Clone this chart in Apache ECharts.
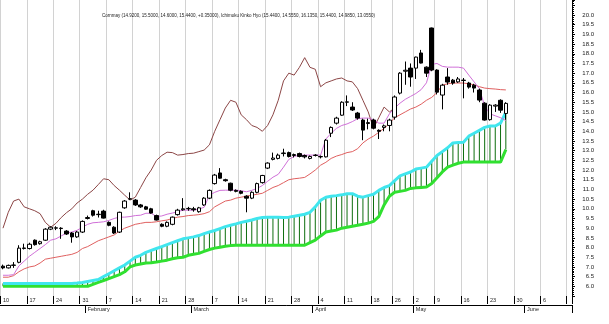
<!DOCTYPE html>
<html><head><meta charset="utf-8">
<script src="https://cdn.jsdelivr.net/npm/echarts@6/dist/echarts.min.js"></script>
<style>html,body{margin:0;padding:0;background:#fff}#c{width:609px;height:324px}</style>
</head><body><div id="c"></div>
<script>
const titleText = 'Cornmay (14.9200, 15.5000, 14.6000, 15.4400, +0.35000), Ichimoku Kinko Hyo (15.4400, 14.5550, 16.1350, 15.4400, 14.9850, 13.0550)';
const dates = [
 '01-10','01-11','01-12','01-13','01-14','01-17','01-18','01-19','01-20','01-21',
 '01-24','01-25','01-26','01-27','01-28','01-31','02-01','02-02','02-03','02-04',
 '02-07','02-08','02-09','02-10','02-11','02-14','02-15','02-16','02-17','02-18',
 '02-21','02-22','02-23','02-24','02-25','02-28','03-01','03-02','03-03','03-04',
 '03-07','03-08','03-09','03-10','03-11','03-14','03-15','03-16','03-17','03-18',
 '03-21','03-22','03-23','03-24','03-25','03-28','03-29','03-30','03-31','04-01',
 '04-04','04-05','04-06','04-07','04-08','04-11','04-12','04-13','04-14','04-15',
 '04-18','04-19','04-20','04-21','04-26','04-27','04-28','04-29','05-02','05-03',
 '05-04','05-05','05-09','05-10','05-11','05-12','05-13','05-16','05-17','05-18',
 '05-19','05-20','05-23','05-24','05-25','05-26','05-27','05-30','05-31','06-01',
 '06-02','06-03','06-06','06-07','06-08','06-09','06-10','06-13'];
const weekTicks = ['01-10','01-17','01-24','01-31','02-07','02-14','02-21','02-28','03-07','03-14','03-21','03-28','04-04','04-11','04-18','04-26','05-02','05-09','05-16','05-23','05-30','06-06','06-13'];
const monthTicks = {'02-01':'February','03-01':'March','04-01':'April','05-02':'May','06-01':'June'};
const yLabels = [6.0,6.5,7.0,7.5,8.0,8.5,9.0,9.5,10.0,10.5,11.0,11.5,12.0,12.5,13.0,13.5,14.0,14.5,15.0,15.5,16.0,16.5,17.0,17.5,18.0,18.5,19.0,19.5,20.0];

const open = [7.04,6.95,7.08,7.24,7.95,7.95,8.38,8.20,8.38,8.95,
 9.00,9.00,8.85,8.75,8.55,8.80,9.50,9.90,9.70,9.88,
 9.30,9.05,8.80,10.05,10.50,10.45,10.20,10.10,10.00,9.65,
 9.20,9.10,9.20,9.70,9.95,10.00,10.00,9.85,10.20,10.55,
 11.30,11.85,11.50,11.32,10.95,10.90,10.65,10.55,10.85,11.35,
 12.10,12.55,12.60,12.85,12.90,12.75,12.85,12.75,12.60,12.75,
 12.70,12.68,13.90,14.42,14.83,15.50,15.25,14.94,14.58,14.40,
 14.58,14.05,14.20,14.30,14.73,15.97,17.10,17.26,17.26,18.04,
 17.31,19.33,17.16,15.87,16.80,16.64,16.55,16.62,16.49,16.38,
 16.13,15.45,14.60,15.30,15.60,14.92];
const close = [6.95,7.08,7.10,7.97,7.98,8.17,8.15,8.30,8.95,9.05,
 9.02,8.98,8.70,8.55,8.80,9.35,9.55,9.67,9.72,9.52,
 9.15,8.75,9.82,10.40,10.52,10.20,10.10,9.98,9.78,9.42,
 9.10,9.30,9.57,9.93,10.00,10.02,9.95,10.05,10.55,10.95,
 11.74,11.58,11.45,10.96,10.90,10.80,10.55,10.85,11.30,11.72,
 12.36,12.62,12.77,12.88,12.70,12.80,12.70,12.68,12.70,12.77,
 12.68,13.54,14.20,14.68,15.50,15.52,15.10,14.68,14.06,14.45,
 14.16,14.00,14.28,14.58,15.77,17.00,17.15,16.80,17.83,17.52,
 17.00,17.16,16.02,16.38,16.54,16.49,16.70,16.64,16.28,16.23,
 15.61,14.58,15.35,15.35,15.09,15.44];
const low = [6.88,6.92,6.95,7.19,7.90,7.90,8.10,8.15,8.35,8.90,
 8.90,8.45,8.65,8.25,8.50,8.75,9.45,9.60,9.55,9.50,
 9.10,8.70,8.75,10.00,10.45,10.15,10.05,9.95,9.75,9.40,
 9.05,9.05,9.15,9.65,9.90,9.90,9.85,9.80,10.15,10.50,
 11.25,11.55,11.40,10.90,10.85,10.75,9.82,10.50,10.80,11.30,
 12.05,12.50,12.55,12.70,12.65,12.65,12.65,12.60,12.55,12.70,
 12.60,12.65,13.70,14.35,14.80,15.30,15.05,14.60,13.54,14.10,
 14.10,13.60,14.00,14.00,14.60,15.90,16.40,16.30,16.70,17.50,
 16.80,17.10,15.90,15.13,16.40,16.40,16.50,15.70,16.20,16.00,
 15.50,14.55,14.55,15.00,14.95,14.60];
const high = [7.12,7.12,7.25,8.12,8.20,8.25,8.42,8.35,9.00,9.10,
 9.10,9.05,8.90,8.80,8.85,9.40,9.65,9.95,9.90,9.95,
 9.35,9.10,9.85,10.45,10.85,10.50,10.25,10.15,10.05,9.70,
 9.25,9.35,9.60,10.00,10.55,10.10,10.10,10.10,10.60,11.00,
 11.80,12.10,11.55,11.35,11.00,10.95,10.70,10.90,11.35,11.75,
 12.40,12.90,12.85,13.10,12.95,12.85,12.90,12.80,12.75,12.82,
 12.75,13.60,14.25,14.75,15.55,15.85,15.50,15.00,14.65,14.65,
 14.65,14.10,14.35,14.65,15.85,17.05,17.60,17.50,17.85,18.20,
 17.35,19.35,17.20,16.45,17.26,16.70,16.80,16.75,16.55,16.45,
 16.20,15.50,15.40,15.40,15.65,15.50];
const tenkan = [6.57,6.57,6.6,7.05,7.3,7.55,7.75,7.95,8.15,8.38,
 8.45,8.6,8.75,8.8,8.89,9.05,9.2,9.28,9.3,9.33,
 9.4,9.5,9.57,9.57,9.6,9.65,9.67,9.77,9.77,9.6,
 9.63,9.72,9.78,9.85,9.93,9.93,9.93,9.98,10.08,10.7,
 10.85,10.95,10.96,10.96,10.96,10.93,10.88,10.95,11.05,11.2,
 11.42,11.63,11.78,12.15,12.55,12.7,12.77,12.77,12.77,12.77,
 12.77,13.6,13.9,14.15,14.3,14.38,14.5,14.65,14.68,14.68,
 14.6,14.42,14.42,14.9,15.2,15.45,15.65,15.8,15.95,16.15,
 16.5,17.45,17.5,17.35,17.31,17.31,17.31,17.26,16.9,16.55,
 16.2,15.3,14.9,14.8,14.7,14.555];
const kijun = [6.47,6.47,6.55,6.75,6.9,7.0,7.05,7.2,7.4,7.45,
 7.5,7.55,7.6,7.65,7.75,7.95,8.05,8.2,8.35,8.45,
 8.55,8.65,8.85,9.0,9.1,9.2,9.25,9.3,9.3,9.33,
 9.38,9.42,9.5,9.57,9.6,9.65,9.67,9.7,9.75,9.85,
 10.1,10.25,10.4,10.45,10.55,10.6,10.65,10.7,10.75,10.8,
 10.95,11.1,11.2,11.35,11.5,11.55,11.58,11.62,11.8,12.0,
 12.25,12.4,12.6,12.72,12.8,12.9,12.95,13.1,13.4,13.6,
 13.75,13.95,14.15,14.4,14.7,14.85,15.0,15.15,15.25,15.4,
 15.6,15.75,16.0,16.38,16.45,16.49,16.49,16.49,16.45,16.4,
 16.3,16.23,16.2,16.18,16.15,16.135];
const chikou = [9.0,9.82,10.4,10.5,10.1,10.0,9.9,9.75,9.3,9.05,
 9.25,9.55,9.8,10.0,10.3,10.5,10.75,10.96,11.25,11.55,
 11.5,11.2,10.96,10.7,10.45,10.6,11.1,11.6,12.0,12.5,
 12.75,12.92,12.9,12.77,12.8,12.85,12.87,12.95,13.03,13.3,
 14.0,14.6,15.2,15.6,15.5,14.85,14.6,14.3,14.2,14.0,
 14.3,14.85,15.6,16.6,17.0,16.9,17.3,17.8,17.3,17.2,
 16.3,16.5,16.6,16.7,16.75,16.6,16.55,16.2,15.6,15.0,
 14.16,14.7,15.25,15.0,15.2];
const senkouA = [6.15,6.15,6.15,6.15,6.15,6.15,6.15,6.15,6.15,6.15,
 6.15,6.15,6.15,6.15,6.17,6.2,6.25,6.3,6.35,6.5,
 6.65,6.8,6.95,7.1,7.3,7.5,7.6,7.75,7.85,7.95,
 8.05,8.15,8.25,8.35,8.45,8.5,8.55,8.62,8.72,8.8,
 8.88,8.98,9.08,9.15,9.22,9.3,9.36,9.42,9.5,9.55,
 9.57,9.57,9.56,9.55,9.57,9.62,9.67,9.72,9.82,10.1,
 10.44,10.6,10.65,10.68,10.72,10.78,10.78,10.65,10.6,10.68,
 10.75,10.95,11.1,11.2,11.45,11.7,11.8,11.9,12.05,12.1,
 12.15,12.45,12.75,12.95,13.15,13.4,13.42,13.44,13.75,13.9,
 14.05,14.2,14.27,14.27,14.42,14.985];
const senkouB = [6.0,6.0,6.0,6.0,6.0,6.0,6.0,6.0,6.0,6.0,
 6.0,6.0,6.0,6.0,6.0,6.0,6.0,6.1,6.2,6.3,
 6.4,6.5,6.6,6.75,7.0,7.1,7.15,7.2,7.22,7.25,
 7.3,7.35,7.42,7.47,7.5,7.6,7.65,7.7,7.8,7.9,
 7.97,8.02,8.07,8.1,8.12,8.12,8.12,8.12,8.12,8.12,
 8.12,8.12,8.12,8.12,8.12,8.12,8.12,8.12,8.25,8.38,
 8.6,8.8,8.85,8.9,9.0,9.05,9.1,9.15,9.2,9.26,
 9.35,9.6,10.2,10.65,10.85,10.9,10.95,11.05,11.08,11.1,
 11.12,11.3,11.6,11.9,12.15,12.25,12.35,12.41,12.41,12.41,
 12.41,12.41,12.41,12.41,12.41,13.055];

const FONT = 'Liberation Sans';
const isWeek = (i) => weekTicks.indexOf(dates[i]) >= 0;
const isMonth = (i) => monthTicks[dates[i]] !== undefined;
const xData = dates.map(d => d === '06-13' ? {value: d, textStyle: {width: 4, overflow: 'truncate', ellipsis: ''}} : d);

const chart = echarts.init(document.getElementById('c'), null, {renderer: 'canvas'});
chart.setOption({
  animation: false,
  backgroundColor: '#fff',
  textStyle: {fontFamily: FONT},
  title: {text: titleText, left: 97, top: 8, textStyle: {fontSize: 4.5, fontWeight: 'normal', color: '#222', fontFamily: FONT}},
  grid: {left: 0, right: 37, top: 0, bottom: 28, containLabel: false},
  xAxis: [{
    type: 'category', data: xData, boundaryGap: true, position: 'bottom',
    axisLine: {show: false},
    axisTick: {show: true, interval: (i) => isWeek(i), length: 8, lineStyle: {color: '#000', width: 1}},
    axisLabel: {interval: (i) => isWeek(i), formatter: (v) => String(parseInt(v.slice(3), 10)), fontSize: 5.5, margin: 1, align: 'left', color: '#222', fontFamily: FONT},
    splitLine: {show: true, interval: (i) => isWeek(i), lineStyle: {color: '#d2d2d2', width: 1}}
  }, {
    type: 'category', data: dates, boundaryGap: true, position: 'bottom', offset: 9,
    axisLine: {show: true, lineStyle: {color: '#000', width: 1}},
    axisTick: {show: true, interval: (i) => isMonth(i), length: 8, lineStyle: {color: '#000', width: 1}},
    axisLabel: {interval: (i) => isMonth(i), formatter: (v) => monthTicks[v] || '', fontSize: 5.5, margin: 1, align: 'left', color: '#222', fontFamily: FONT},
    splitLine: {show: false}
  }],
  yAxis: {
    type: 'value', position: 'right', min: 5.5, max: 20.775, interval: 0.5, scale: true,
    axisLine: {show: true, lineStyle: {color: '#000', width: 1}},
    axisTick: {show: true, length: 3, lineStyle: {color: '#000'}},
    minorTick: {show: true, splitNumber: 5, length: 2, lineStyle: {color: '#000'}},
    axisLabel: {fontSize: 6, color: '#222', align: 'right', margin: 22, fontFamily: FONT, showMinLabel: false, showMaxLabel: false,
      formatter: (v) => yLabels.some(t => Math.abs(t - v) < 1e-6) ? v.toFixed(1) : ''},
    splitLine: {show: false}
  },
  series: [
    {type: 'custom', xAxisIndex: 0, z: 1, silent: true,
     data: senkouA.map((a, i) => [i, a, senkouB[i]]),
     renderItem: (params, api) => {
       const p1 = api.coord([api.value(0), api.value(1)]);
       const p2 = api.coord([api.value(0), api.value(2)]);
       return {type: 'line', shape: {x1: p1[0], y1: p1[1], x2: p2[0], y2: p2[1]}, style: {stroke: '#0d6e0d', lineWidth: 1}};
     }},
    {type: 'line', name: 'Senkou B', data: senkouB, showSymbol: false, z: 2, lineStyle: {color: '#30e030', width: 3}},
    {type: 'line', name: 'Senkou A', data: senkouA, showSymbol: false, z: 3, lineStyle: {color: '#40e6ee', width: 3}},
    {type: 'line', name: 'Chikou', data: chikou, showSymbol: false, z: 4, lineStyle: {color: '#8c4646', width: 1}},
    {type: 'line', name: 'Kijun', data: kijun, showSymbol: false, z: 4, lineStyle: {color: '#e06060', width: 1}},
    {type: 'line', name: 'Tenkan', data: tenkan, showSymbol: false, z: 4, lineStyle: {color: '#d070d8', width: 1}},
    {type: 'candlestick', name: 'Cornmay', z: 5, barWidth: 4,
     data: open.map((o, i) => [o, close[i], low[i], high[i]]),
     itemStyle: {color: '#ffffff', color0: '#000000', borderColor: '#000000', borderColor0: '#000000', borderWidth: 1}}
  ]
});
</script>
</body></html>
